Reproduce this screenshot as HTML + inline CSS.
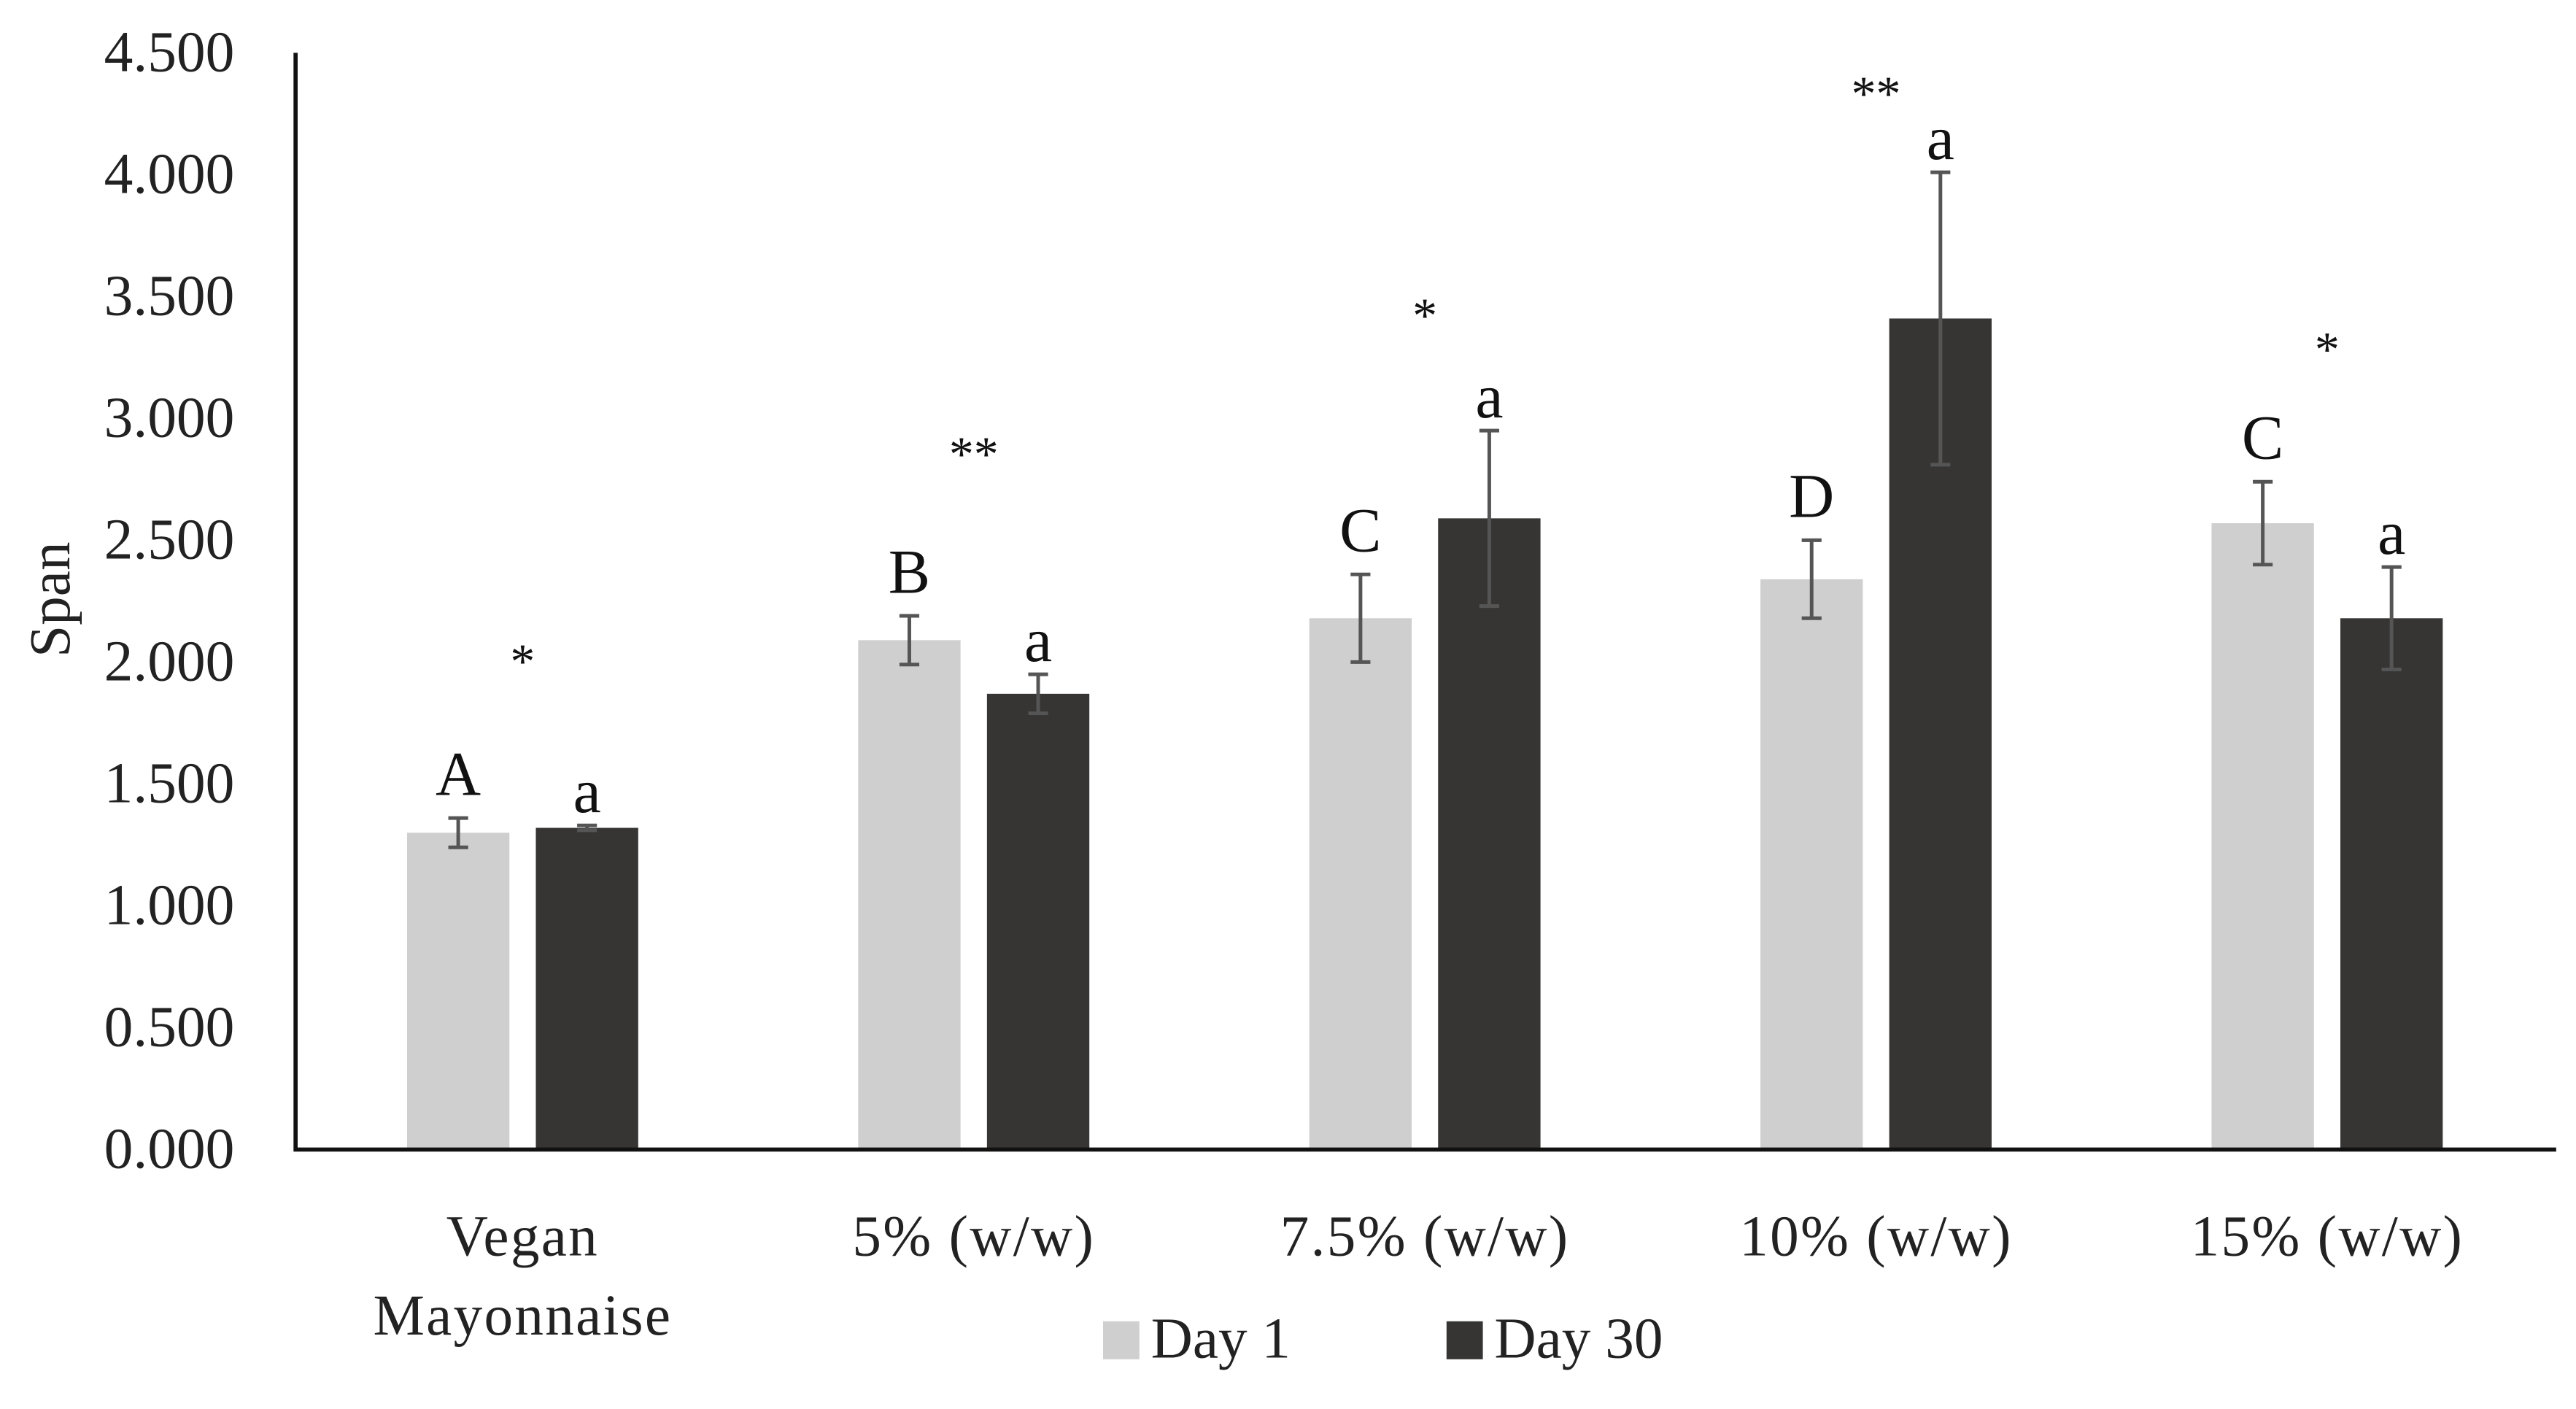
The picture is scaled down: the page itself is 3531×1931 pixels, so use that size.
<!DOCTYPE html>
<html><head><meta charset="utf-8"><style>html,body{margin:0;padding:0;background:#fff}svg{display:block}</style></head>
<body>
<svg id="chart" width="3531" height="1931" viewBox="0 0 1560 853.1" preserveAspectRatio="none" xmlns="http://www.w3.org/2000/svg" font-family="'Liberation Serif', serif"></svg>
<script>
const categories = ["Vegan|Mayonnaise", "5% (w/w)", "7.5% (w/w)", "10% (w/w)", "15% (w/w)"];
const day1 = [1.30, 2.09, 2.18, 2.34, 2.57];
const day30 = [1.32, 1.87, 2.59, 3.41, 2.18];
const day1Err = [0.06, 0.10, 0.18, 0.16, 0.17];
const day30Err = [0.01, 0.08, 0.36, 0.60, 0.21];
const day1Letters = ["A", "B", "C", "D", "C"];
const day30Letters = ["a", "a", "a", "a", "a"];
const stars = ["*", "**", "*", "**", "*"];
const starValues = [2.03, 2.88, 3.45, 4.36, 3.31];
const yTicks = [0, 0.5, 1, 1.5, 2, 2.5, 3, 3.5, 4, 4.5];

const NS = "http://www.w3.org/2000/svg";
const svg = document.getElementById("chart");
const X0 = 179, X1 = 1548, Y0 = 696, Y1 = 32, YMAX = 4.5;
const y = v => Y0 - (v / YMAX) * (Y0 - Y1);
const groupW = 273.2;
const gx = i => 316.5 + groupW * i;
const barW = 62, gap = 16;
function el(tag, attrs, text) {
  const e = document.createElementNS(NS, tag);
  for (const k in attrs) e.setAttribute(k, attrs[k]);
  if (text !== undefined) e.textContent = text;
  svg.appendChild(e);
  return e;
}
yTicks.forEach(t => {
  const e = el("text", {x: 142, y: y(t) + 11, "text-anchor": "end", "font-size": 35, fill: "#222", textLength: 79, lengthAdjust: "spacingAndGlyphs"}, t.toFixed(3));
  
  
});
const yt = el("text", {x: 0, y: 0, transform: "translate(42,363) rotate(-90)", "text-anchor": "middle", "font-size": 35, fill: "#222"}, "Span");



categories.forEach((c, i) => {
  const cx = gx(i);
  const x1 = cx - gap / 2 - barW, x2 = cx + gap / 2;
  const b1 = el("rect", {x: x1, y: y(day1[i]), width: barW, height: Y0 - y(day1[i]), fill: "#d0cfcf"});
  
  
  const b2 = el("rect", {x: x2, y: y(day30[i]), width: barW, height: Y0 - y(day30[i]), fill: "#363534"});
  
  
  [[x1 + barW / 2, day1[i], day1Err[i]], [x2 + barW / 2, day30[i], day30Err[i]]].forEach(([ex, v, er]) => {
    const g = el("path", {d: `M${ex},${y(v + er)}V${y(v - er)}M${ex - 6},${y(v + er)}H${ex + 6}M${ex - 6},${y(v - er)}H${ex + 6}`, stroke: "#555", "stroke-width": 2.2, fill: "none"});
    
    
  });
  const l1 = el("text", {x: x1 + barW / 2, y: y(day1[i] + day1Err[i]) - 14, "text-anchor": "middle", "font-size": 38, fill: "#111"}, day1Letters[i]);
  
  
  const l2 = el("text", {x: x2 + barW / 2, y: y(day30[i] + day30Err[i]) - 8, "text-anchor": "middle", "font-size": 38, fill: "#111"}, day30Letters[i]);
  
  
  const s = el("text", {x: cx, y: y(starValues[i]) + 14, "text-anchor": "middle", "font-size": 30, fill: "#111"}, stars[i]);
  
  
  const parts = c.split("|");
  parts.forEach((p, k) => {
    const t = el("text", {x: cx, y: 760 + k * 48, "text-anchor": "middle", "font-size": 35, fill: "#222", "letter-spacing": 1}, p);
    
    
  });
});
const ax = el("path", {d: `M${X0},${Y1}V${Y0}H${X1}`, stroke: "#111", "stroke-width": 2.5, fill: "none"});



const lg1 = el("rect", {x: 668, y: 800, width: 22, height: 23, fill: "#d0cfcf"});


const lt1 = el("text", {x: 697, y: 822, "font-size": 35, fill: "#222"}, "Day 1");


const lg2 = el("rect", {x: 876, y: 800, width: 22, height: 23, fill: "#363534"});


const lt2 = el("text", {x: 905, y: 822, "font-size": 35, fill: "#222"}, "Day 30");


</script>
</body></html>
